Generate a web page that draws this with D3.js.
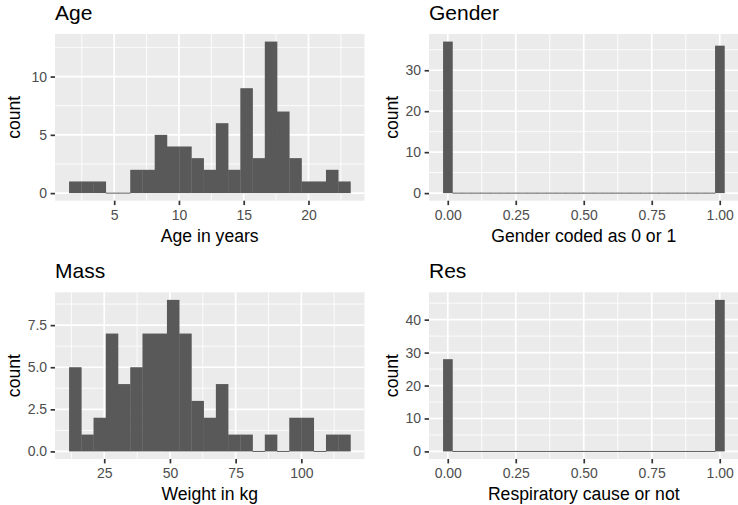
<!DOCTYPE html>
<html>
<head>
<meta charset="utf-8">
<script src="https://cdn.jsdelivr.net/npm/d3@7"></script>
<style>
    body { margin: 0; background: #fff; }
    text { font-family: "Liberation Sans", Arial, sans-serif; }
</style>
</head>
<body>
<script>
// histogram counts
const ageCounts = [1, 1, 1, 0, 0, 2, 2, 5, 4, 4, 3, 2, 6, 2, 9, 3, 13, 7, 3, 1, 1, 2, 1];
const ageBinStart = 1.516, ageBinWidth = 0.9445;

const genderCounts = [37, 0, 0, 0, 0, 0, 0, 0, 0, 0, 0, 0, 0, 0, 0,
    0, 0, 0, 0, 0, 0, 0, 0, 0, 0, 0, 0, 0, 0, 36];
const genderBinStart = -1 / 58, genderBinWidth = 1 / 29;

const massCounts = [5, 1, 2, 7, 4, 5, 7, 7, 9, 7, 3, 2, 4, 1, 1, 0, 1, 0, 2, 2, 0, 1, 1];
const massBinStart = 11.62, massBinWidth = 4.655;

const resCounts = [28, 0, 0, 0, 0, 0, 0, 0, 0, 0, 0, 0, 0, 0, 0,
    0, 0, 0, 0, 0, 0, 0, 0, 0, 0, 0, 0, 0, 0, 46];
const resBinStart = -1 / 58, resBinWidth = 1 / 29;

const titles = ["Age", "Gender", "Mass", "Res"];
const xTitles = ["Age in years", "Gender coded as 0 or 1", "Weight in kg", "Respiratory cause or not"];
const ageXTicks = [5, 10, 15, 20], ageYTicks = [0, 5, 10];
const binaryXTicks = [0, 0.25, 0.5, 0.75, 1];
const genderYTicks = [0, 10, 20, 30];
const massXTicks = [25, 50, 75, 100], massYTicks = [0, 2.5, 5, 7.5];
const resYTicks = [0, 10, 20, 30, 40];

const W = 738, H = 505;
const svg = d3.select("body").append("svg")
    .attr("width", W).attr("height", H)
    .attr("viewBox", `0 0 ${W} ${H}`);

const panels = [
    { counts: ageCounts, start: ageBinStart, width: ageBinWidth, xt: ageXTicks, yt: ageYTicks,
      xf: d3.format("d"), yf: d3.format("d"), px: 55, py: 34, yTitleX: 20 },
    { counts: genderCounts, start: genderBinStart, width: genderBinWidth, xt: binaryXTicks, yt: genderYTicks,
      xf: d3.format(".2f"), yf: d3.format("d"), px: 429, py: 34, yTitleX: 397.5 },
    { counts: massCounts, start: massBinStart, width: massBinWidth, xt: massXTicks, yt: massYTicks,
      xf: d3.format("d"), yf: d3.format(".1f"), px: 55, py: 292.3, yTitleX: 20 },
    { counts: resCounts, start: resBinStart, width: resBinWidth, xt: binaryXTicks, yt: resYTicks,
      xf: d3.format(".2f"), yf: d3.format("d"), px: 429, py: 292.3, yTitleX: 397.5 }
];
const pw = 309.5, ph = 166.7;
const majorW = 1.7, minorW = 0.85;

// minor breaks halfway between majors, like ggplot
const minors = (ticks, dom) => {
    const step = ticks[1] - ticks[0];
    const out = [];
    for (let v = ticks[0] - step / 2; v <= dom[1]; v += step) {
        if (v >= dom[0]) out.push(v);
    }
    return out;
};

panels.forEach((p, i) => {
    const lo = p.start, hi = p.start + p.counts.length * p.width;
    const pad = (hi - lo) * 0.05;
    const x = d3.scaleLinear().domain([lo - pad, hi + pad]).range([p.px, p.px + pw]);
    const ymax = d3.max(p.counts);
    const y = d3.scaleLinear().domain([-0.05 * ymax, 1.05 * ymax]).range([p.py + ph, p.py]);

    const g = svg.append("g");
    g.append("rect")
        .attr("x", p.px).attr("y", p.py).attr("width", pw).attr("height", ph)
        .attr("fill", "#EBEBEB");

    g.selectAll(".xminor").data(minors(p.xt, x.domain())).enter().append("line")
        .attr("x1", d => x(d)).attr("x2", d => x(d))
        .attr("y1", p.py).attr("y2", p.py + ph)
        .attr("stroke", "#fff").attr("stroke-width", minorW);
    g.selectAll(".yminor").data(minors(p.yt, y.domain())).enter().append("line")
        .attr("y1", d => y(d)).attr("y2", d => y(d))
        .attr("x1", p.px).attr("x2", p.px + pw)
        .attr("stroke", "#fff").attr("stroke-width", minorW);
    g.selectAll(".xmajor").data(p.xt).enter().append("line")
        .attr("x1", d => x(d)).attr("x2", d => x(d))
        .attr("y1", p.py).attr("y2", p.py + ph)
        .attr("stroke", "#fff").attr("stroke-width", majorW);
    g.selectAll(".ymajor").data(p.yt).enter().append("line")
        .attr("y1", d => y(d)).attr("y2", d => y(d))
        .attr("x1", p.px).attr("x2", p.px + pw)
        .attr("stroke", "#fff").attr("stroke-width", majorW);

    // bars; empty bins still show as a hairline at zero
    g.selectAll(".bar").data(p.counts).enter().append("rect")
        .attr("x", (d, k) => x(p.start + k * p.width))
        .attr("width", (d, k) => x(p.start + (k + 1) * p.width) - x(p.start + k * p.width) + 0.3)
        .attr("y", d => d > 0 ? y(d) : y(0) - 0.5)
        .attr("height", d => d > 0 ? y(0) - y(d) : 1)
        .attr("fill", "#595959");

    const xAxis = g.append("g")
        .attr("transform", `translate(0,${p.py + ph})`)
        .call(d3.axisBottom(x).tickValues(p.xt).tickFormat(p.xf).tickSize(4.4).tickPadding(4.5));
    const yAxis = g.append("g")
        .attr("transform", `translate(${p.px},0)`)
        .call(d3.axisLeft(y).tickValues(p.yt).tickFormat(p.yf).tickSize(4.4).tickPadding(3.5));
    [xAxis, yAxis].forEach(a => {
        a.select(".domain").remove();
        a.selectAll("line").attr("stroke", "#333333").attr("stroke-width", majorW);
        a.selectAll("text").attr("fill", "#4D4D4D").style("font-size", "14px")
            .style("font-family", "'Liberation Sans', Arial, sans-serif");
    });

    g.append("text")
        .attr("x", p.px).attr("y", p.py - 14.3)
        .style("font-size", "21px").attr("fill", "#000")
        .text(titles[i]);
    g.append("text")
        .attr("x", p.px + pw / 2).attr("y", p.py + ph + 41)
        .attr("text-anchor", "middle")
        .style("font-size", "17.6px").attr("fill", "#000")
        .text(xTitles[i]);
    g.append("text")
        .attr("transform", `translate(${p.yTitleX},${p.py + ph / 2}) rotate(-90)`)
        .attr("text-anchor", "middle")
        .style("font-size", "17.6px").attr("fill", "#000")
        .text("count");
});
</script>
</body>
</html>
